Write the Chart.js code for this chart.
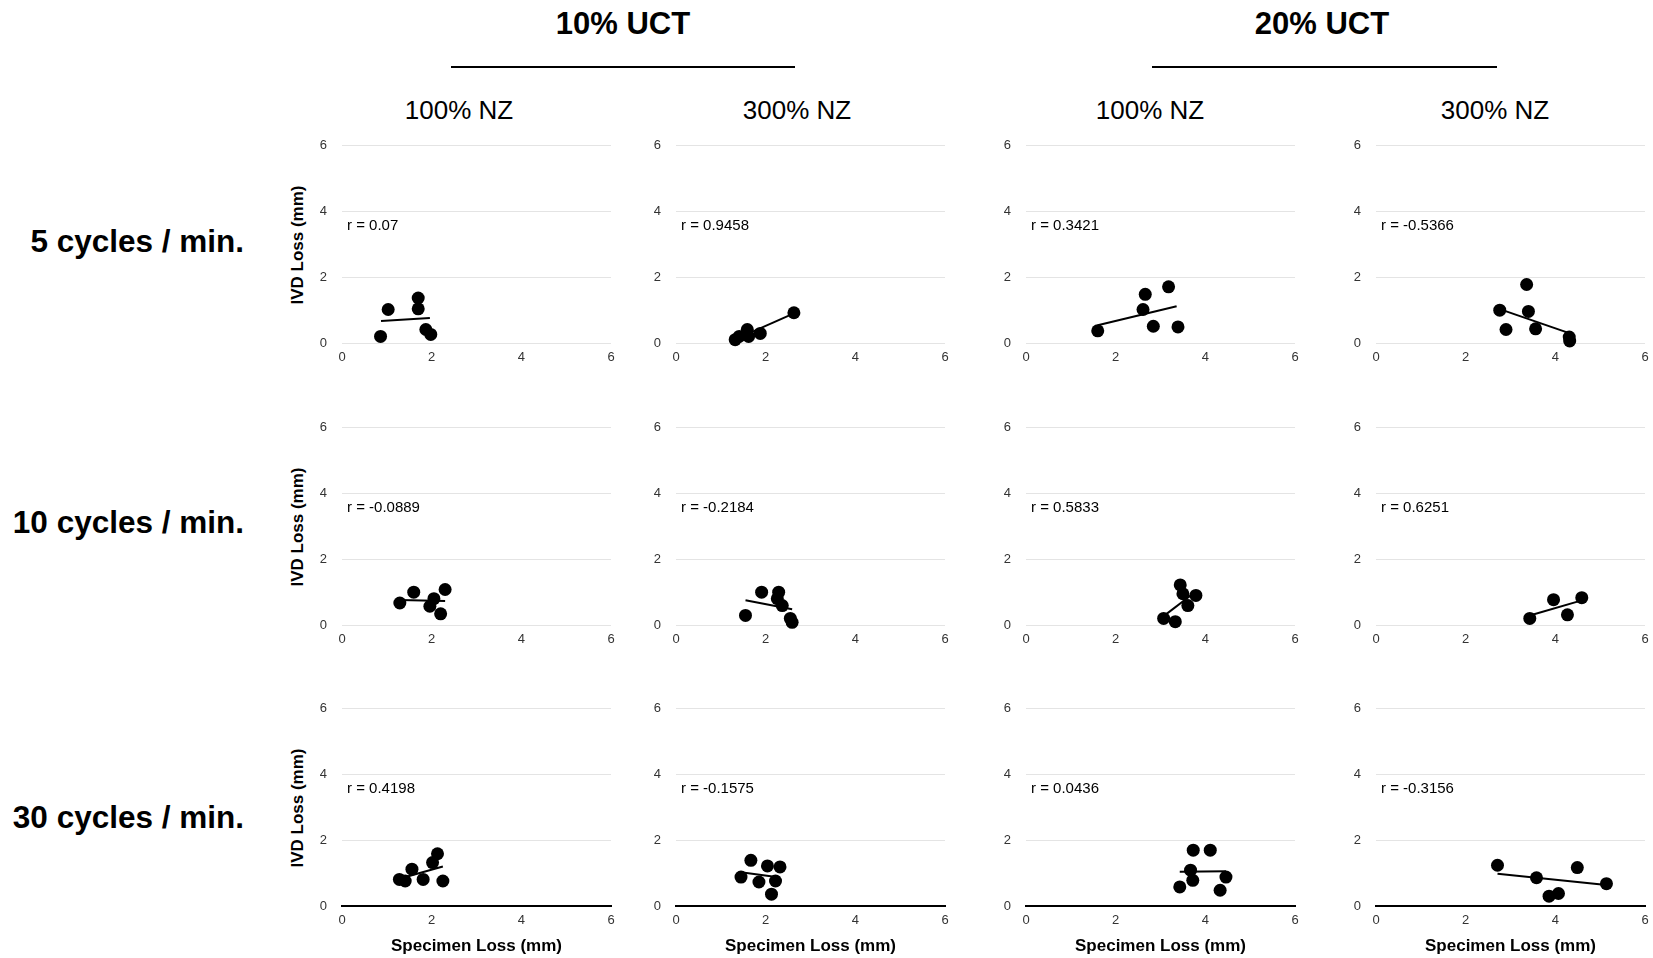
<!DOCTYPE html>
<html>
<head>
<meta charset="utf-8">
<script src="https://cdn.jsdelivr.net/npm/chart.js@4.4.1/dist/chart.umd.min.js"></script>
<style>
html,body{margin:0;padding:0;background:#fff;}
body{width:1653px;height:958px;position:relative;overflow:hidden;font-family:'Liberation Sans',Arial,Helvetica,sans-serif;color:#000;}
.t{position:absolute;white-space:nowrap;line-height:1;}
.rule{position:absolute;height:2px;background:#000;}
canvas{position:absolute;}
</style>
</head>
<body>
<script>
// ---------- text ----------
const groupLabels = ['10% UCT', '20% UCT'];
const columnLabels = ['100% NZ', '300% NZ', '100% NZ', '300% NZ'];
const rowLabels = ['5 cycles / min.', '10 cycles / min.', '30 cycles / min.'];
const axisTicks = [0, 2, 4, 6];
const xTitle = 'Specimen Loss (mm)';
const yTitle = 'IVD Loss (mm)';

// ---------- data (Specimen Loss = x, IVD Loss = y, mm) ----------
// 5 cycles / min.
const spec_r1c1 = [0.86, 1.03, 1.70, 1.70, 1.87, 1.98];
const ivd_r1c1  = [0.20, 1.02, 1.37, 1.04, 0.41, 0.26];
const fitX_r1c1 = [0.87, 1.96], fitY_r1c1 = [0.67, 0.76];
const spec_r1c2 = [1.32, 1.41, 1.59, 1.62, 1.88, 2.63];
const ivd_r1c2  = [0.10, 0.20, 0.41, 0.20, 0.29, 0.92];
const fitX_r1c2 = [1.32, 2.63], fitY_r1c2 = [0.11, 0.90];
const spec_r1c3 = [1.60, 2.61, 2.66, 2.84, 3.18, 3.39];
const ivd_r1c3  = [0.37, 1.02, 1.48, 0.51, 1.71, 0.49];
const fitX_r1c3 = [1.60, 3.36], fitY_r1c3 = [0.54, 1.12];
const spec_r1c4 = [2.76, 2.90, 3.36, 3.40, 3.56, 4.31, 4.32];
const ivd_r1c4  = [1.00, 0.41, 1.78, 0.96, 0.43, 0.18, 0.06];
const fitX_r1c4 = [2.76, 4.31], fitY_r1c4 = [1.03, 0.30];
// 10 cycles / min.
const spec_r2c1 = [1.29, 1.60, 1.96, 2.05, 2.20, 2.30];
const ivd_r2c1  = [0.67, 1.00, 0.57, 0.80, 0.34, 1.08];
const fitX_r2c1 = [1.29, 2.30], fitY_r2c1 = [0.76, 0.73];
const spec_r2c2 = [1.55, 1.91, 2.29, 2.26, 2.37, 2.55, 2.59];
const ivd_r2c2  = [0.29, 1.00, 1.00, 0.80, 0.59, 0.20, 0.08];
const fitX_r2c2 = [1.55, 2.59], fitY_r2c2 = [0.75, 0.48];
const spec_r2c3 = [3.07, 3.33, 3.44, 3.50, 3.61, 3.79];
const ivd_r2c3  = [0.20, 0.10, 1.22, 0.95, 0.59, 0.90];
const fitX_r2c3 = [3.07, 3.79], fitY_r2c3 = [0.27, 1.02];
const spec_r2c4 = [3.43, 3.96, 4.27, 4.59];
const ivd_r2c4  = [0.20, 0.77, 0.31, 0.83];
const fitX_r2c4 = [3.43, 4.59], fitY_r2c4 = [0.29, 0.75];
// 30 cycles / min.
const spec_r3c1 = [1.28, 1.41, 1.56, 1.81, 2.02, 2.13, 2.25];
const ivd_r3c1  = [0.81, 0.76, 1.12, 0.81, 1.32, 1.59, 0.76];
const fitX_r3c1 = [1.28, 2.25], fitY_r3c1 = [0.83, 1.20];
const spec_r3c2 = [1.45, 1.67, 1.85, 2.04, 2.13, 2.22, 2.32];
const ivd_r3c2  = [0.88, 1.39, 0.73, 1.22, 0.36, 0.76, 1.19];
const fitX_r3c2 = [1.45, 2.32], fitY_r3c2 = [1.03, 0.87];
const spec_r3c3 = [3.43, 3.67, 3.72, 3.73, 4.11, 4.33, 4.46];
const ivd_r3c3  = [0.58, 1.09, 0.78, 1.70, 1.70, 0.48, 0.88];
const fitX_r3c3 = [3.43, 4.46], fitY_r3c3 = [1.04, 1.06];
const spec_r3c4 = [2.71, 3.58, 3.86, 4.07, 4.49, 5.14];
const ivd_r3c4  = [1.24, 0.86, 0.30, 0.38, 1.17, 0.68];
const fitX_r3c4 = [2.71, 5.14], fitY_r3c4 = [0.98, 0.64];

const rLabels = [
  ['r = 0.07', 'r = 0.9458', 'r = 0.3421', 'r = -0.5366'],
  ['r = -0.0889', 'r = -0.2184', 'r = 0.5833', 'r = 0.6251'],
  ['r = 0.4198', 'r = -0.1575', 'r = 0.0436', 'r = -0.3156']
];

const panels = [
  [[spec_r1c1, ivd_r1c1, fitX_r1c1, fitY_r1c1], [spec_r1c2, ivd_r1c2, fitX_r1c2, fitY_r1c2], [spec_r1c3, ivd_r1c3, fitX_r1c3, fitY_r1c3], [spec_r1c4, ivd_r1c4, fitX_r1c4, fitY_r1c4]],
  [[spec_r2c1, ivd_r2c1, fitX_r2c1, fitY_r2c1], [spec_r2c2, ivd_r2c2, fitX_r2c2, fitY_r2c2], [spec_r2c3, ivd_r2c3, fitX_r2c3, fitY_r2c3], [spec_r2c4, ivd_r2c4, fitX_r2c4, fitY_r2c4]],
  [[spec_r3c1, ivd_r3c1, fitX_r3c1, fitY_r3c1], [spec_r3c2, ivd_r3c2, fitX_r3c2, fitY_r3c2], [spec_r3c3, ivd_r3c3, fitX_r3c3, fitY_r3c3], [spec_r3c4, ivd_r3c4, fitX_r3c4, fitY_r3c4]]
];

// ---------- layout (pixels) ----------
const FAMILY = "'Liberation Sans', Arial, Helvetica, sans-serif";
const plotLeft = [342, 676, 1026, 1376];
const plotW = 269;
const plotTop = [146, 428, 709];
const plotH = 197;
const YW = 60, PT = 20, PR = 12;

function addText(txt, css) {
  const d = document.createElement('div');
  d.className = 't';
  d.textContent = txt;
  Object.assign(d.style, css);
  document.body.appendChild(d);
  return d;
}

// group headers
const groupCenters = [623, 1322];
groupLabels.forEach((g, i) => {
  addText(g, {left: groupCenters[i] + 'px', top: '23px', transform: 'translate(-50%,-50%)', fontSize: '31px', fontWeight: 'bold'});
});
[[451, 795], [1152, 1497]].forEach(([a, b]) => {
  const r = document.createElement('div');
  r.className = 'rule';
  Object.assign(r.style, {left: a + 'px', width: (b - a) + 'px', top: '66px'});
  document.body.appendChild(r);
});
// column headers
const colCenters = [459, 797, 1150, 1495];
columnLabels.forEach((c, i) => {
  addText(c, {left: colCenters[i] + 'px', top: '110px', transform: 'translate(-50%,-50%)', fontSize: '26px'});
});
// row labels
const rowCenters = [242, 523, 818];
rowLabels.forEach((r, i) => {
  addText(r, {right: (1653 - 244) + 'px', top: rowCenters[i] + 'px', transform: 'translateY(-50%)', fontSize: '31.5px', fontWeight: 'bold'});
});
// y-axis titles (first column)
plotTop.forEach((t, i) => {
  addText(yTitle, {left: '297px', top: (t + plotH / 2) + 'px', transform: 'translate(-50%,-50%) rotate(-90deg)', fontSize: '17px', fontWeight: 'bold'});
});

const rLabelPlugin = {
  id: 'rlabel',
  afterDraw(chart, args, opts) {
    const ctx = chart.ctx;
    ctx.save();
    ctx.font = '15px ' + FAMILY;
    ctx.fillStyle = '#000';
    ctx.textBaseline = 'middle';
    ctx.textAlign = 'left';
    ctx.fillText(opts.text, chart.chartArea.left + 5, chart.scales.y.getPixelForValue(3.55));
    ctx.restore();
  }
};

function build(cv, r, c, XH) {
  const [xs, ys, fx, fy] = panels[r][c];
  const last = r === 2;
  return new Chart(cv, {
    type: 'scatter',
    data: {
      datasets: [
        {
          type: 'line',
          data: fx.map((v, i) => ({x: v, y: fy[i]})),
          borderColor: '#000', borderWidth: 2, pointRadius: 0, pointHoverRadius: 0,
          showLine: true, fill: false, tension: 0, order: 0, clip: false
        },
        {
          data: xs.map((v, i) => ({x: v, y: ys[i]})),
          backgroundColor: '#000', borderColor: '#000', borderWidth: 0,
          pointRadius: 6.5, pointHoverRadius: 6.5, order: 1, clip: false
        }
      ]
    },
    options: {
      responsive: false, animation: false, devicePixelRatio: 1,
      events: [],
      layout: {padding: {left: 0, right: PR, top: PT, bottom: 0}},
      plugins: {legend: {display: false}, tooltip: {enabled: false}, rlabel: {text: rLabels[r][c]}},
      scales: {
        x: {
          type: 'linear', min: 0, max: 6,
          afterBuildTicks: s => { s.ticks = axisTicks.map(v => ({value: v})); },
          grid: {display: false, drawTicks: false},
          border: {display: last, color: '#000', width: 2},
          ticks: {font: {size: 13, family: FAMILY}, color: '#333', padding: 7},
          title: last ? {display: true, text: xTitle, font: {size: 17, weight: 'bold', family: FAMILY}, color: '#000', padding: {top: 0, bottom: 1}} : {display: false},
          afterFit: s => { s.height = XH; }
        },
        y: {
          type: 'linear', min: 0, max: 6,
          afterBuildTicks: s => { s.ticks = axisTicks.map(v => ({value: v})); },
          grid: {color: '#e4e4e4', lineWidth: 1, drawTicks: false},
          border: {display: false},
          ticks: {font: {size: 13, family: FAMILY}, color: '#333', padding: 15},
          afterFit: s => { s.width = YW; }
        }
      }
    },
    plugins: [rLabelPlugin]
  });
}

for (let r = 0; r < 3; r++) {
  for (let c = 0; c < 4; c++) {
    const XH = r === 2 ? 52 : 28;
    const cv = document.createElement('canvas');
    let W = YW + plotW + PR, H = PT + plotH + XH;
    cv.width = W; cv.height = H;
    cv.style.width = W + 'px'; cv.style.height = H + 'px';
    document.body.appendChild(cv);
    let chart = build(cv, r, c, XH);
    let ca = chart.chartArea;
    const dh = Math.round(plotH - (ca.bottom - ca.top));
    const dw = Math.round(plotW - (ca.right - ca.left));
    if (dh !== 0 || dw !== 0) {
      chart.destroy();
      W += dw; H += dh;
      cv.width = W; cv.height = H;
      cv.style.width = W + 'px'; cv.style.height = H + 'px';
      chart = build(cv, r, c, XH);
      ca = chart.chartArea;
    }
    cv.style.left = Math.round(plotLeft[c] - ca.left) + 'px';
    cv.style.top = Math.round(plotTop[r] - ca.top) + 'px';
  }
}
</script>
</body>
</html>
